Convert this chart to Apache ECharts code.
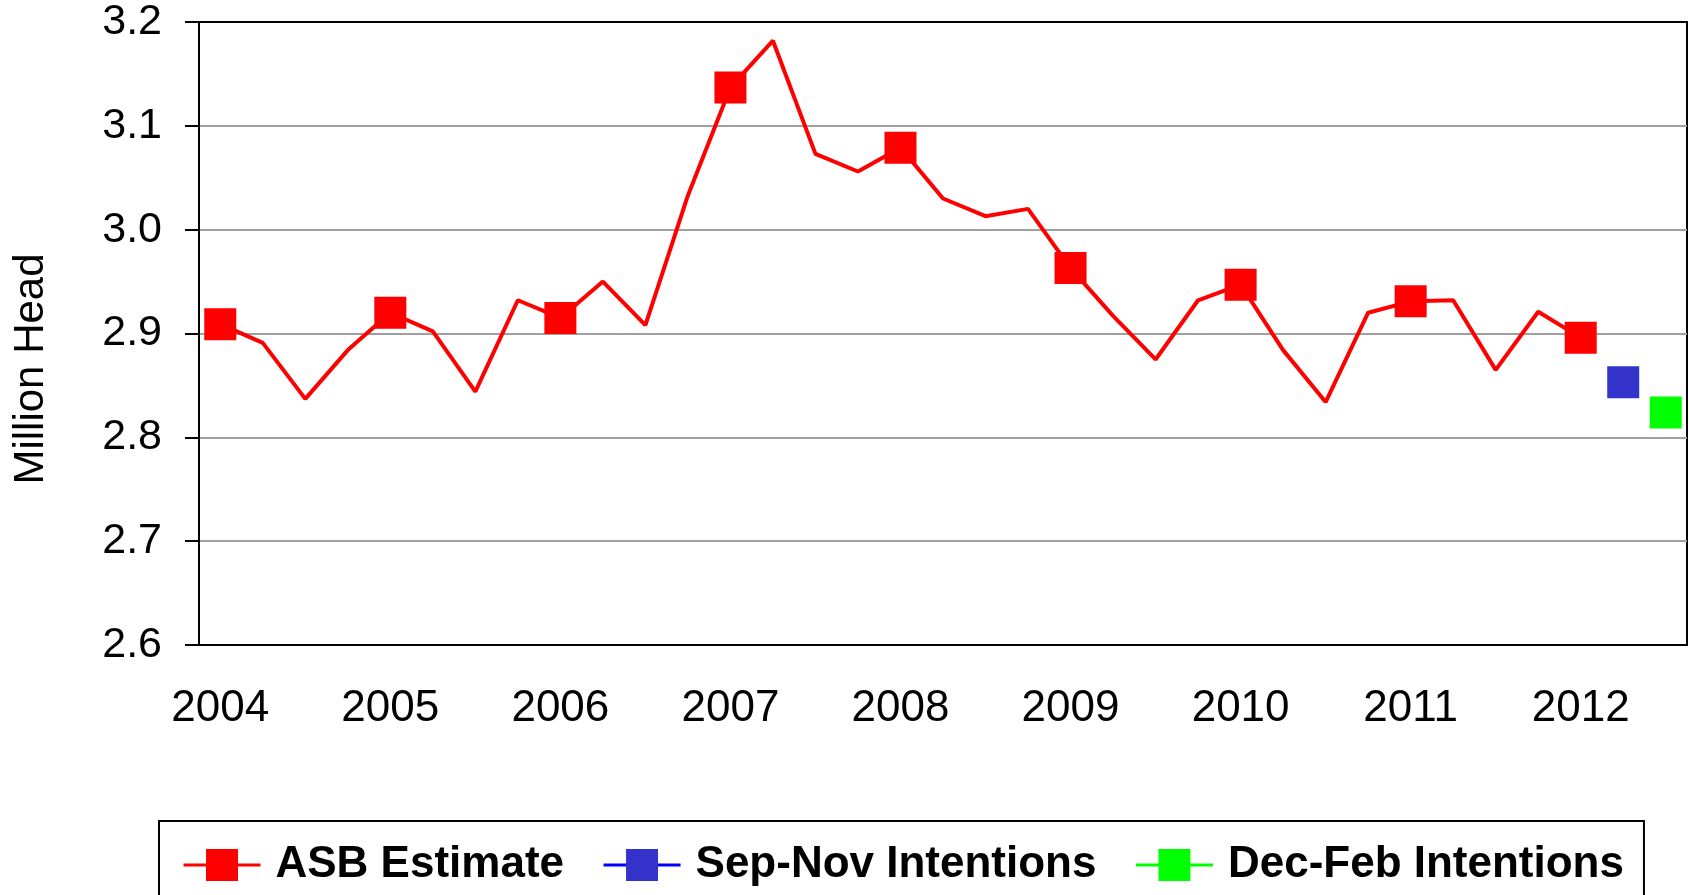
<!DOCTYPE html>
<html>
<head>
<meta charset="utf-8">
<title>Million Head</title>
<script type="text/javascript" src="https://cdn.jsdelivr.net/npm/echarts@6/dist/echarts.min.js"></script>
</head>
<body style="margin:0">

	<div id="main" style="width: 1689px; height: 895px;"></div>

	<script type="text/javascript">
		// quarters, 2004 Q1 .. 2012 Q3
		var categories = [ '2004 Q1', '2004 Q2', '2004 Q3', '2004 Q4',
				'2005 Q1', '2005 Q2', '2005 Q3', '2005 Q4',
				'2006 Q1', '2006 Q2', '2006 Q3', '2006 Q4',
				'2007 Q1', '2007 Q2', '2007 Q3', '2007 Q4',
				'2008 Q1', '2008 Q2', '2008 Q3', '2008 Q4',
				'2009 Q1', '2009 Q2', '2009 Q3', '2009 Q4',
				'2010 Q1', '2010 Q2', '2010 Q3', '2010 Q4',
				'2011 Q1', '2011 Q2', '2011 Q3', '2011 Q4',
				'2012 Q1', '2012 Q2', '2012 Q3' ];

		// ASB estimate, million head
		var asbEstimate = [ 2.909, 2.891, 2.837, 2.884,
				2.920, 2.902, 2.844, 2.932,
				2.915, 2.950, 2.908, 3.033,
				3.137, 3.182, 3.073, 3.056,
				3.079, 3.030, 3.013, 3.020,
				2.963, 2.917, 2.875, 2.932,
				2.947, 2.884, 2.834, 2.920,
				2.931, 2.932, 2.865, 2.921,
				2.896 ];

		// intentions, '-' where there is no value
		var sepNovIntentions = [ '-', '-', '-', '-', '-', '-', '-', '-', '-',
				'-', '-', '-', '-', '-', '-', '-', '-', '-', '-', '-', '-', '-',
				'-', '-', '-', '-', '-', '-', '-', '-', '-', '-', '-', 2.853, '-' ];
		var decFebIntentions = [ '-', '-', '-', '-', '-', '-', '-', '-', '-',
				'-', '-', '-', '-', '-', '-', '-', '-', '-', '-', '-', '-', '-',
				'-', '-', '-', '-', '-', '-', '-', '-', '-', '-', '-', '-', 2.824 ];

		var font = '"Liberation Sans", Arial, sans-serif';

		var myChart = echarts.init(document.getElementById('main'));

		// marker only on the first quarter of each year
		var asbData = asbEstimate.map(function(v, i) {
			return i % 4 === 0 ? v : { value : v, symbol : 'none' };
		});

		var option = {
			animation : false,
			backgroundColor : '#fff',
			grid : {
				show : true,
				left : 199,
				right : 2,
				top : 22,
				bottom : 250,
				borderColor : '#000',
				borderWidth : 2,
				outerBoundsMode : 'none'
			},
			legend : {
				left : 159,
				top : 821,
				padding : [ 22, 20, 22, 23 ],
				borderColor : '#000',
				borderWidth : 2,
				itemWidth : 77,
				itemHeight : 40,
				itemGap : 38,
				lineStyle : {
					width : 3
				},
				textStyle : {
					fontFamily : font,
					fontSize : 44,
					fontWeight : 'bold',
					color : '#000',
					padding : [ 0, 0, 0, 10 ]
				},
				data : [ 'ASB Estimate', 'Sep-Nov Intentions', 'Dec-Feb Intentions' ]
			},
			xAxis : {
				type : 'category',
				data : categories,
				boundaryGap : true,
				axisLine : {
					lineStyle : {
						color : '#000',
						width : 2
					}
				},
				axisTick : {
					show : false
				},
				axisLabel : {
					interval : function(index) {
						return index % 4 === 0;
					},
					formatter : function(value) {
						return value.slice(0, 4);
					},
					margin : 42,
					color : '#000',
					fontFamily : font,
					fontSize : 44
				},
				splitLine : {
					show : false
				}
			},
			yAxis : {
				type : 'value',
				min : 2.6,
				max : 3.2,
				interval : 0.1,
				axisLine : {
					show : true,
					lineStyle : {
						color : '#000',
						width : 2
					}
				},
				axisTick : {
					show : true,
					length : 14,
					lineStyle : {
						color : '#000',
						width : 2
					}
				},
				axisLabel : {
					formatter : function(v) {
						return v.toFixed(1);
					},
					margin : 37,
					color : '#000',
					fontFamily : font,
					fontSize : 43
				},
				splitLine : {
					show : true,
					showMinLine : false,
					showMaxLine : false,
					lineStyle : {
						color : '#a0a0a0',
						width : 2
					}
				}
			},
			graphic : [ {
				type : 'text',
				x : 31,
				y : 369,
				rotation : Math.PI / 2,
				style : {
					text : 'Million Head',
					fontFamily : font,
					fontSize : 42,
					fill : '#000',
					align : 'center',
					verticalAlign : 'middle'
				}
			} ],
			series : [ {
				name : 'ASB Estimate',
				type : 'line',
				data : asbData,
				symbol : 'rect',
				symbolSize : 32,
				showAllSymbol : true,
				lineStyle : {
					color : '#ff0000',
					width : 4
				},
				itemStyle : {
					color : '#ff0000'
				}
			}, {
				name : 'Sep-Nov Intentions',
				type : 'line',
				data : sepNovIntentions,
				symbol : 'rect',
				symbolSize : 32,
				showSymbol : true,
				showAllSymbol : true,
				lineStyle : {
					color : '#0000ff',
					width : 3
				},
				itemStyle : {
					color : '#3333cc'
				}
			}, {
				name : 'Dec-Feb Intentions',
				type : 'line',
				data : decFebIntentions,
				symbol : 'rect',
				symbolSize : 32,
				showSymbol : true,
				showAllSymbol : true,
				lineStyle : {
					color : '#00ff00',
					width : 3
				},
				itemStyle : {
					color : '#00ff00'
				}
			} ]
		};

		myChart.setOption(option);
	</script>

</body>
</html>
